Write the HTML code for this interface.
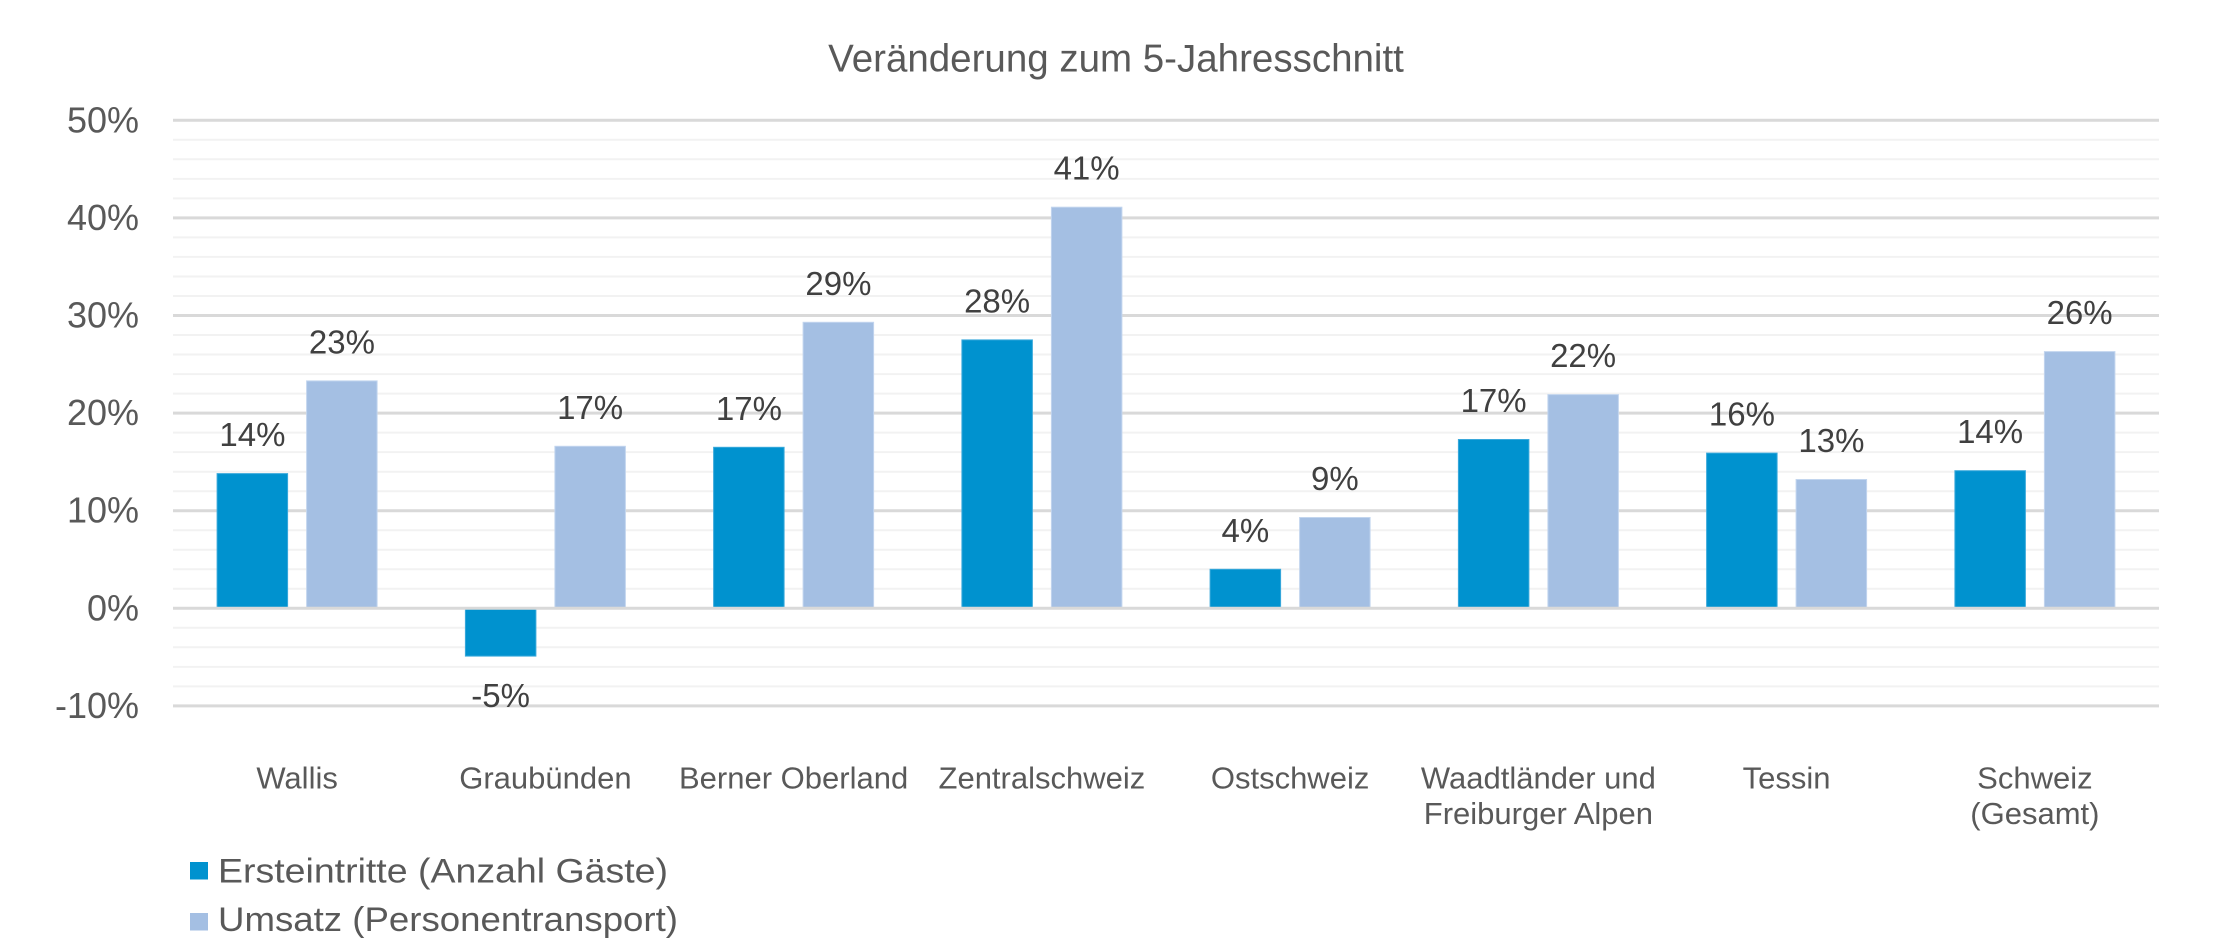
<!DOCTYPE html>
<html>
<head>
<meta charset="utf-8">
<style>
  html, body { margin: 0; padding: 0; background: #ffffff; }
  svg { display: block; }
  text { font-family: "Liberation Sans", Arial, sans-serif; }
</style>
</head>
<body>
<svg width="2228" height="951" viewBox="0 0 2228 951" xmlns="http://www.w3.org/2000/svg">
  <rect x="0" y="0" width="2228" height="951" fill="#ffffff"/>

  <!-- Title -->
  <text x="1116" y="71.7" font-size="38.5" fill="#595959" text-anchor="middle">Veränderung zum 5-Jahresschnitt</text>

  <!-- Minor gridlines -->
  <g stroke="#f2f2f2" stroke-width="2">
    <line x1="173" x2="2159" y1="686.4" y2="686.4"/>
    <line x1="173" x2="2159" y1="666.9" y2="666.9"/>
    <line x1="173" x2="2159" y1="647.3" y2="647.3"/>
    <line x1="173" x2="2159" y1="627.8" y2="627.8"/>
    <line x1="173" x2="2159" y1="588.8" y2="588.8"/>
    <line x1="173" x2="2159" y1="569.3" y2="569.3"/>
    <line x1="173" x2="2159" y1="549.7" y2="549.7"/>
    <line x1="173" x2="2159" y1="530.2" y2="530.2"/>
    <line x1="173" x2="2159" y1="491.2" y2="491.2"/>
    <line x1="173" x2="2159" y1="471.7" y2="471.7"/>
    <line x1="173" x2="2159" y1="452.1" y2="452.1"/>
    <line x1="173" x2="2159" y1="432.6" y2="432.6"/>
    <line x1="173" x2="2159" y1="393.6" y2="393.6"/>
    <line x1="173" x2="2159" y1="374.1" y2="374.1"/>
    <line x1="173" x2="2159" y1="354.5" y2="354.5"/>
    <line x1="173" x2="2159" y1="335.0" y2="335.0"/>
    <line x1="173" x2="2159" y1="296.0" y2="296.0"/>
    <line x1="173" x2="2159" y1="276.5" y2="276.5"/>
    <line x1="173" x2="2159" y1="256.9" y2="256.9"/>
    <line x1="173" x2="2159" y1="237.4" y2="237.4"/>
    <line x1="173" x2="2159" y1="198.4" y2="198.4"/>
    <line x1="173" x2="2159" y1="178.9" y2="178.9"/>
    <line x1="173" x2="2159" y1="159.3" y2="159.3"/>
    <line x1="173" x2="2159" y1="139.8" y2="139.8"/>
  </g>

  <!-- Major gridlines -->
  <g stroke="#d9d9d9" stroke-width="3">
    <line x1="173" x2="2159" y1="705.9" y2="705.9"/>
    <line x1="173" x2="2159" y1="510.7" y2="510.7"/>
    <line x1="173" x2="2159" y1="413.1" y2="413.1"/>
    <line x1="173" x2="2159" y1="315.5" y2="315.5"/>
    <line x1="173" x2="2159" y1="217.9" y2="217.9"/>
    <line x1="173" x2="2159" y1="120.3" y2="120.3"/>
  </g>

  <!-- Y axis labels -->
  <g font-size="36" fill="#595959" text-anchor="end">
    <text x="139" y="132.3">50%</text>
    <text x="139" y="229.9">40%</text>
    <text x="139" y="327.5">30%</text>
    <text x="139" y="425.1">20%</text>
    <text x="139" y="522.7">10%</text>
    <text x="139" y="620.3">0%</text>
    <text x="139" y="717.9">-10%</text>
  </g>

  <!-- Bars: series 1 -->
  <g fill="#0092cf" stroke="#3aa9db" stroke-width="1">
    <rect x="217.1" y="473.6" width="70.5" height="134.7"/>
    <rect x="465.4" y="608.3" width="70.5" height="47.8"/>
    <rect x="713.6" y="447.3" width="70.5" height="161.0"/>
    <rect x="961.9" y="339.9" width="70.5" height="268.4"/>
    <rect x="1210.1" y="569.3" width="70.5" height="39.0"/>
    <rect x="1458.4" y="439.5" width="70.5" height="168.8"/>
    <rect x="1706.6" y="453.1" width="70.5" height="155.2"/>
    <rect x="1954.9" y="470.7" width="70.5" height="137.6"/>
  </g>

  <!-- Bars: series 2 -->
  <g fill="#a4bfe3" stroke="#c2d5ee" stroke-width="1">
    <rect x="306.6" y="380.9" width="70.5" height="227.4"/>
    <rect x="554.9" y="446.3" width="70.5" height="162.0"/>
    <rect x="803.1" y="322.3" width="70.5" height="286.0"/>
    <rect x="1051.4" y="207.2" width="70.5" height="401.1"/>
    <rect x="1299.6" y="517.5" width="70.5" height="90.8"/>
    <rect x="1547.9" y="394.6" width="70.5" height="213.7"/>
    <rect x="1796.1" y="479.5" width="70.5" height="128.8"/>
    <rect x="2044.4" y="351.6" width="70.5" height="256.7"/>
  </g>

  <!-- Zero axis line -->
  <line x1="173" x2="2159" y1="608.3" y2="608.3" stroke="#d9d9d9" stroke-width="3"/>

  <!-- Data labels -->
  <g font-size="33" fill="#404040" text-anchor="middle">
    <text x="252.4" y="446.1">14%</text>
    <text x="341.9" y="353.4">23%</text>
    <text x="500.6" y="707">-5%</text>
    <text x="590.1" y="418.8">17%</text>
    <text x="748.9" y="419.8">17%</text>
    <text x="838.4" y="294.8">29%</text>
    <text x="997.1" y="312.4">28%</text>
    <text x="1086.6" y="179.7">41%</text>
    <text x="1245.4" y="541.8">4%</text>
    <text x="1334.9" y="490">9%</text>
    <text x="1493.6" y="412">17%</text>
    <text x="1583.1" y="367.1">22%</text>
    <text x="1741.9" y="425.6">16%</text>
    <text x="1831.4" y="452">13%</text>
    <text x="1990.1" y="443.2">14%</text>
    <text x="2079.6" y="324.1">26%</text>
  </g>

  <!-- Category labels -->
  <g font-size="31" fill="#595959" text-anchor="middle">
    <text x="297.1" y="788.3">Wallis</text>
    <text x="545.4" y="788.3">Graubünden</text>
    <text x="793.6" y="788.3">Berner Oberland</text>
    <text x="1041.9" y="788.3">Zentralschweiz</text>
    <text x="1290.1" y="788.3">Ostschweiz</text>
    <text x="1538.4" y="788.3">Waadtländer und</text>
    <text x="1538.4" y="824">Freiburger Alpen</text>
    <text x="1786.6" y="788.3">Tessin</text>
    <text x="2034.9" y="788.3">Schweiz</text>
    <text x="2034.9" y="824">(Gesamt)</text>
  </g>

  <!-- Legend -->
  <rect x="190" y="862" width="18" height="17.5" fill="#0092cf"/>
  <text x="218" y="882.3" font-size="34" fill="#595959" textLength="450" lengthAdjust="spacingAndGlyphs">Ersteintritte (Anzahl Gäste)</text>
  <rect x="190" y="913" width="18" height="17.5" fill="#a4bfe3"/>
  <text x="218" y="931" font-size="34" fill="#595959" textLength="460" lengthAdjust="spacingAndGlyphs">Umsatz (Personentransport)</text>
</svg>
</body>
</html>
